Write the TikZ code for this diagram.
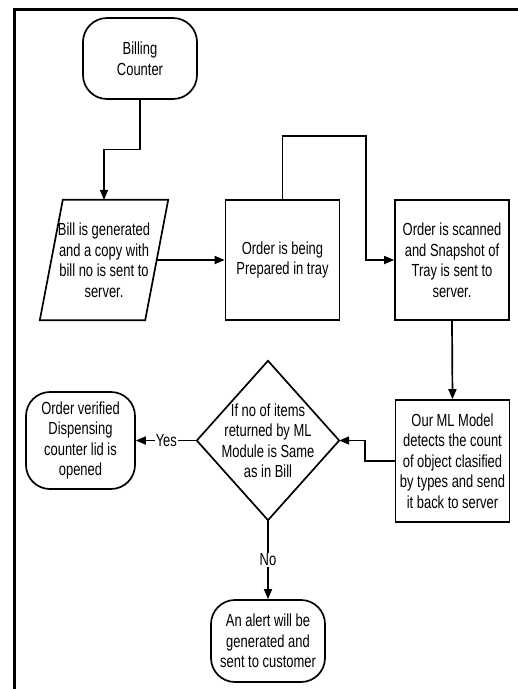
\documentclass[tikz,border=0pt]{standalone}
\usepackage{fontspec}
\setmainfont{Liberation Sans}[FakeStretch=0.74]
\usetikzlibrary{arrows.meta,calc}

\tikzset{
  lbl/.style={font=\fontsize{17.5}{20.5}\selectfont, align=center, inner sep=0pt},
  procbox/.style={lbl, draw, line width=1.7pt, minimum width=114pt, minimum height=120pt},
  termbox/.style={lbl, draw, line width=1.7pt, rounded corners=24pt},
  outline/.style={line width=1.7pt, line join=miter},
  arr/.style={line width=1.7pt, -{Triangle[length=10pt,width=8pt]}},
  flowtag/.style={lbl, fill=white, inner sep=1pt},
}

\begin{document}
\begin{tikzpicture}[x=1pt, y=-1pt]
  \useasboundingbox (0,0) rectangle (518,689);

  % page frame (left and top edges)
  \draw[line width=3pt] (14,689) -- (14,9) -- (518,9);

  % start terminal
  \node[termbox, minimum width=114pt, minimum height=81pt] (bc) at (140,58.5) {Billing\\Counter};

  % bill input (parallelogram drawn around a plain node)
  \node[lbl, minimum width=128pt, minimum height=120pt] (bill) at (104,260)
    {Bill is generated\\and a copy with\\bill no is sent to\\server.};
  \draw[outline] (bill.south west) -- ($(bill.north west)+(23,0)$) -- (bill.north east)
    -- ($(bill.south east)+(-23,0)$) -- cycle;
  \coordinate (billout) at ($(bill.east)+(-11.5,0)$);

  % process steps
  \node[procbox] (prep) at (282.5,260) {Order is being\\Prepared in tray};
  \node[procbox] (scan) at (452,260) {Order is scanned\\and Snapshot of\\Tray is sent to\\server.};
  \node[procbox, minimum height=122pt] (ml) at (452.5,461) {Our ML Model\\detects the count\\of object clasified\\by types and send\\it back to server};

  % decision (diamond drawn around a plain node)
  \node[lbl, minimum width=142pt, minimum height=159pt] (dec) at (268,440.5)
    {If no of items\\returned by ML\\Module is Same\\as in Bill};
  \draw[outline] (dec.north) -- (dec.east) -- (dec.south) -- (dec.west) -- cycle;

  % end terminals
  \node[termbox, minimum width=109pt, minimum height=97pt] (ok) at (80.5,440.5)
    {Order verified\\Dispensing\\counter lid is\\opened};
  \node[termbox, minimum width=114pt, minimum height=82pt] (alert) at (268,641)
    {An alert will be\\generated and\\sent to customer};

  % connectors
  \draw[arr] (bc.south) -- ++(0,49.5) -| (bill.north);
  \draw[arr] (billout) -- (prep.west);
  \draw[arr] (prep.north) -- ++(0,-63) -| ($(scan.west)+(-28,0)$) -- (scan.west);
  \draw[arr] (scan.south) -- (ml.north);
  \draw[arr] (ml.west) -- ++(-29.5,0) |- (dec.east);
  \draw[arr] (dec.west) -- node[flowtag] {Yes} (ok.east);
  \draw[arr] (dec.south) -- node[flowtag] {No} (alert.north);
\end{tikzpicture}
\end{document}
